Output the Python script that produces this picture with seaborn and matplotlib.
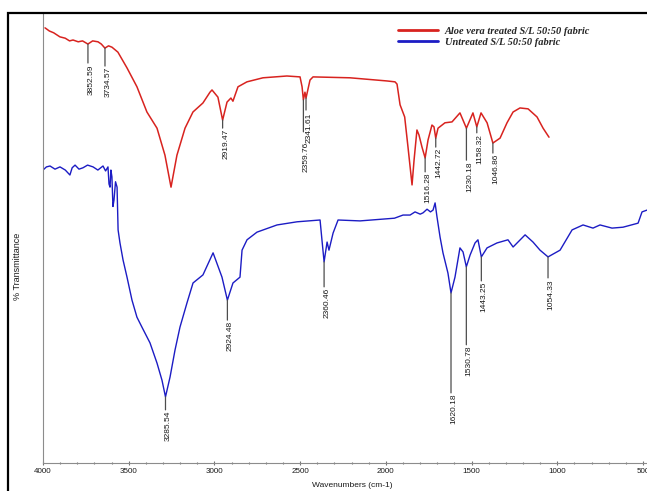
import numpy as np
import matplotlib
matplotlib.use("Agg")
import matplotlib.pyplot as plt
from matplotlib.lines import Line2D
from matplotlib.patches import Rectangle
from matplotlib.ticker import MultipleLocator
import seaborn as sns

#------------------------------------------------------------------------------
# spectra (wavenumber cm-1, % transmittance, arbitrary)
#------------------------------------------------------------------------------
# treated fabric (its own wavenumber scale, as in the original overlay)
red_wn = [4150, 4120, 4090, 4047, 4010, 3980, 3956, 3920, 3890, 3853, 3820,
          3783, 3760, 3735, 3710, 3686, 3645, 3582, 3513, 3444, 3374, 3319,
          3277, 3236, 3180, 3125, 3056, 3007, 2993, 2952, 2919.47, 2889, 2862,
          2848, 2813, 2751, 2640, 2474, 2383, 2369, 2359.76, 2349, 2341.61,
          2314, 2293, 2037, 1781, 1725, 1711, 1690, 1658, 1635, 1607, 1593,
          1573, 1559, 1538, 1516.28, 1496, 1469, 1455, 1442.72, 1427, 1379,
          1330, 1275, 1230.18, 1185, 1158.32, 1129, 1087, 1046.86, 997, 949,
          907, 859, 803, 741, 699, 658]
red_t = [96.7, 96.0, 95.6, 94.7, 94.4, 93.8, 94.0, 93.6, 93.8, 93.1, 93.8,
         93.6, 93.1, 92.2, 92.7, 92.4, 91.3, 87.8, 83.6, 78.0, 74.4, 68.4,
         61.3, 68.4, 74.4, 78.0, 80.0, 82.4, 82.9, 81.3, 76.2, 80.2, 81.1,
         80.4, 83.6, 84.7, 85.6, 86.0, 85.8, 83.6, 80.7, 82.4, 81.1,
         85.1, 85.8, 85.6, 84.9, 84.7, 84.2, 79.6, 76.9, 70.2, 61.8, 67.3,
         74.0, 72.9, 70.2, 67.8, 71.8, 75.1, 74.7, 72.2, 74.4, 75.6,
         75.8, 77.8, 74.4, 77.8, 74.7, 77.8, 75.6, 71.1, 72.2, 75.6,
         78.0, 78.9, 78.7, 76.9, 74.4, 72.4]

# untreated fabric
blue_wn = [4000, 3980, 3959, 3930, 3901, 3870, 3843, 3830, 3813, 3790, 3767,
           3740, 3708, 3680, 3650, 3635, 3621, 3615, 3609, 3604, 3598, 3592,
           3586, 3577, 3568, 3562, 3551, 3533, 3510, 3481, 3452, 3423, 3376,
           3335, 3306, 3285.54, 3259, 3230, 3201, 3160, 3125, 3067, 3008, 2956,
           2924.48, 2892, 2851, 2839, 2810, 2752, 2635, 2518, 2384, 2373,
           2360.46, 2343, 2332, 2308, 2279, 2151, 2017, 1950, 1900, 1859, 1830,
           1800, 1783, 1760, 1740, 1725, 1713, 1702, 1684, 1667, 1638,
           1620.18, 1597, 1568, 1550, 1530.78, 1509, 1480, 1463, 1443.25, 1410,
           1352, 1288, 1258, 1188, 1142, 1101, 1054.33, 984, 914, 850, 792,
           751, 681, 617, 529, 506, 477]
blue_t = [65.1, 65.8, 66.0, 65.3, 65.8, 65.1, 64.0, 65.6, 66.2, 65.3, 65.6,
          66.2, 65.8, 65.1, 66.0, 64.9, 65.8, 62.0, 61.3, 65.1, 63.6, 57.0,
          58.4, 62.5, 61.3, 51.8, 48.9, 45.1, 41.3, 36.2, 32.4, 30.2, 26.7,
          22.2, 18.4, 14.7, 19.1, 25.1, 30.2, 35.6, 40.0, 41.8, 46.7, 41.3,
          36.2, 40.0, 41.3, 47.3, 49.6, 51.3, 52.9, 53.6, 54.0, 49.6,
          44.7, 49.1, 47.3, 51.1, 54.0, 53.8, 54.2, 54.4, 55.1, 55.1, 55.8,
          55.3, 55.6, 56.4, 55.8, 56.2, 57.8, 54.7, 50.2, 46.7, 42.2,
          37.8, 41.3, 47.8, 46.9, 43.6, 46.2, 48.9, 49.6, 45.8, 47.8,
          48.9, 49.6, 48.0, 50.7, 49.1, 47.3, 45.8, 47.3, 51.8, 52.9, 52.2,
          52.9, 52.2, 52.4, 53.3, 55.8, 56.2]

# peak labels
red_peaks = [3852.59, 3734.57, 2919.47, 2359.76, 2341.61, 1516.28, 1442.72,
             1230.18, 1158.32, 1046.86]
blue_peaks = [3285.54, 2924.48, 2360.46, 1620.18, 1530.78, 1443.25, 1054.33]

legend_labels = ["Aloe vera treated S/L 50:50 fabric",
                 "Untreated S/L 50:50 fabric"]

# label layout: (line length, text offset) below the peak, in pixels
red_drop = [(19, 21), (18, 19), (8, 9), (32, 42), (12, 15), (14, 15),
            (9, 10), (32, 33), (6, 7), (10, 11)]
blue_drop = [(13, 14), (20, 21), (25, 26), (100, 101), (78, 79), (24, 25),
             (21, 23)]

#------------------------------------------------------------------------------
sns.set_style("white")
plt.rcParams['font.family'] = ['Liberation Sans', 'DejaVu Sans']

W, H = 647, 491
fig = plt.figure(figsize=(W / 100, H / 100), dpi=100)
ax = fig.add_axes([43 / W, 1 - 463 / H, (W - 43) / W, 450 / H])
ax2 = ax.twiny()

red_c = '#d8231f'
blue_c = '#1c1cc4'

sns.lineplot(x=blue_wn, y=blue_t, ax=ax, color=blue_c, lw=1.0,
             estimator=None, sort=False)
sns.lineplot(x=red_wn, y=red_t, ax=ax2, color=red_c, lw=1.1,
             estimator=None, sort=False)

ax.set_xlim(4000, 477)
ax2.set_xlim(4164, -21)
ax.set_ylim(0, 100)

# axis styling
for a in (ax, ax2):
    for s in a.spines.values():
        s.set_visible(False)
ax.spines['left'].set_visible(True)
ax.spines['bottom'].set_visible(True)
ax.spines['left'].set_color('0.55')
ax.spines['bottom'].set_color('0.55')
ax2.set_xticks([])

ax.xaxis.set_major_locator(MultipleLocator(500))
ax.xaxis.set_minor_locator(MultipleLocator(100))
ax.yaxis.set_major_locator(MultipleLocator(10))
ax.yaxis.set_minor_locator(MultipleLocator(1))
ax.tick_params(axis='both', which='both', direction='inout', color='0.45',
               width=0.8)
ax.tick_params(axis='both', which='major', length=3)
ax.tick_params(axis='both', which='minor', length=2)
ax.tick_params(axis='x', labelsize=5.8, pad=2, labelcolor='0.1')
ax.tick_params(axis='y', labelleft=False)
ax.set_xlabel('')
ax.set_ylabel('')

fig.text(352 / W, 1 - 482 / H, 'Wavenumbers (cm-1)', ha='center', va='top',
         fontsize=6, color='0.1')
fig.text(18 / W, 1 - 266 / H, '% Transmittance', rotation=90, ha='center',
         va='center', fontsize=6.5, color='0.1')

# peak annotations
px2pt = 0.72
def label_peaks(a, wn, t, peaks, drops):
    order = np.argsort(wn)
    xs = np.asarray(wn)[order]
    ys = np.asarray(t)[order]
    for p, (ld, td) in zip(peaks, drops):
        yp = np.interp(p, xs, ys)
        a.annotate('', xy=(p, yp), xytext=(0, -ld * px2pt),
                   textcoords='offset points',
                   arrowprops=dict(arrowstyle='-', color='0.3', lw=0.9,
                                   shrinkA=0, shrinkB=0))
        a.annotate(f'{p:.2f}', xy=(p, yp), xytext=(3 * px2pt, -td * px2pt),
                   textcoords='offset points', rotation=90, ha='center',
                   va='top', fontsize=6, color='0.1')

label_peaks(ax, blue_wn, blue_t, blue_peaks, blue_drop)
label_peaks(ax2, red_wn, red_t, red_peaks, red_drop)

# legend
handles = [Line2D([], [], color=red_c, lw=2.0),
           Line2D([], [], color=blue_c, lw=2.0)]
fig.legend(handles, legend_labels, loc='upper left',
           bbox_to_anchor=(398 / W, 1 - 26.5 / H), frameon=False,
           borderaxespad=0, borderpad=0, handlelength=3.8,
           handletextpad=0.7, labelspacing=0.15,
           prop=dict(family='Liberation Serif', style='italic',
                     weight='bold', size=7.5))

# outer frame of the original figure
fig.patches.append(Rectangle((8 / W, -0.5), 2.0, 0.5 + 1 - 12.5 / H,
                             transform=fig.transFigure, fill=False,
                             ec='black', lw=1.6, clip_on=False))

fig.savefig('out.png', dpi=100)
